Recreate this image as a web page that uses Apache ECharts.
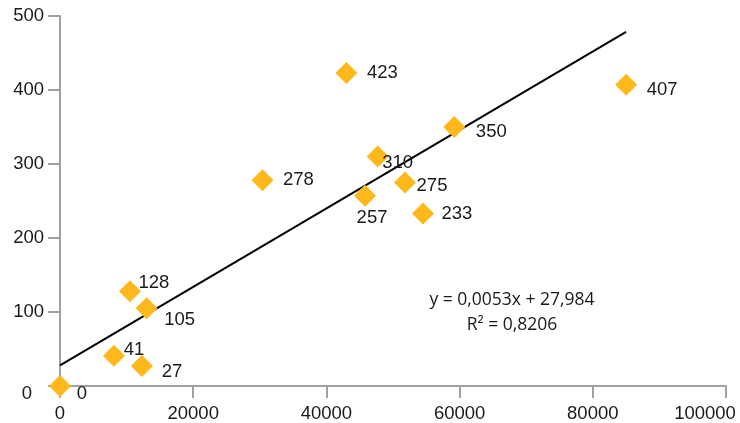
<!DOCTYPE html>
<html><head><meta charset="utf-8">
<script src="https://cdn.jsdelivr.net/npm/echarts@6/dist/echarts.min.js"></script>
<style>html,body{margin:0;padding:0;background:#fff}#c{width:740px;height:423px}</style>
</head><body><div id="c"></div>
<script>
const xValues = [0, 8100, 12300, 10500, 13000, 30400, 43000, 47700, 45800, 51800, 54500, 59200, 85000];
const yValues = [0, 41, 27, 128, 105, 278, 423, 310, 257, 275, 233, 350, 407];
const pointLabels = ['0','41','27','128','105','278','423','310','257','275','233','350','407'];
const trendSlope = 0.0053;
const trendIntercept = 27.984;
const equationLines = ['y = 0,0053x + 27,984', 'R² = 0,8206'];
const xTicks = [0, 20000, 40000, 60000, 80000, 100000];
const yTicks = [0, 100, 200, 300, 400, 500];

// label offsets (style only)
const labelOffsets = [[22,8],[20,-6],[30,6],[24,-8],[33,12],[36,0],[36,0],[20,6],[7,22],[27,3],[34,0],[37,5],[36,5]];

const FONT = '"Liberation Sans", Arial, sans-serif';
const FS = 18.5;
const chart = echarts.init(document.getElementById('c'));
const pts = xValues.map((x,i)=>({
  value:[x,yValues[i]],
  label:{show:true, formatter:pointLabels[i], position:'inside', offset:labelOffsets[i],
         color:'#1a1a1a', fontSize:FS, fontFamily:FONT}
}));
const xmax = Math.max(...xValues);
const xMaxTick = xTicks[xTicks.length-1];
const axisCol = '#a0a0a0';
chart.setOption({
  animation:false,
  grid:{left:60, right:14, top:16, bottom:37, outerBoundsMode:'none', containLabel:false},
  xAxis:{type:'value', min:xTicks[0], max:xMaxTick, interval:20000,
    axisLine:{show:true, onZero:false, lineStyle:{color:axisCol, width:2}},
    axisTick:{show:true, length:12, lineStyle:{color:axisCol, width:2}},
    splitLine:{show:false},
    axisLabel:{color:'#1a1a1a', fontSize:FS, fontFamily:FONT, margin:18, showMaxLabel:true,
      formatter:v=> v===xMaxTick ? '{m|'+v+'}' : String(v),
      rich:{m:{fontSize:FS, color:'#1a1a1a', fontFamily:FONT, padding:[0,42,0,0]}}}
  },
  yAxis:{type:'value', min:yTicks[0], max:yTicks[yTicks.length-1], interval:100,
    axisLine:{show:true, onZero:false, lineStyle:{color:axisCol, width:2}},
    axisTick:{show:true, length:12, lineStyle:{color:axisCol, width:2}},
    splitLine:{show:false},
    axisLabel:{color:'#1a1a1a', fontSize:FS, fontFamily:FONT, margin:16,
      formatter:v=> v===0 ? '{z|0}' : String(v),
      rich:{z:{fontSize:FS, color:'#1a1a1a', fontFamily:FONT, padding:[15,12,0,0]}}}
  },
  series:[
    {type:'line', data:[[0,trendIntercept],[xmax, trendSlope*xmax+trendIntercept]],
     symbol:'none', lineStyle:{color:'#000', width:2}, z:1, silent:true},
    {type:'scatter', data:pts, symbol:'diamond', symbolSize:[22,22],
     itemStyle:{color:'#FFB81C', opacity:1}, z:3}
  ],
  graphic:[
    {type:'text', x:512, y:300, style:{text:equationLines[0], align:'center', verticalAlign:'middle', fill:'#1a1a1a', font:'17.5px "Open Sans", sans-serif'}},
    {type:'text', x:512, y:325, style:{text:equationLines[1], align:'center', verticalAlign:'middle', fill:'#1a1a1a', font:'17.5px "Open Sans", sans-serif'}}
  ]
});
</script></body></html>
